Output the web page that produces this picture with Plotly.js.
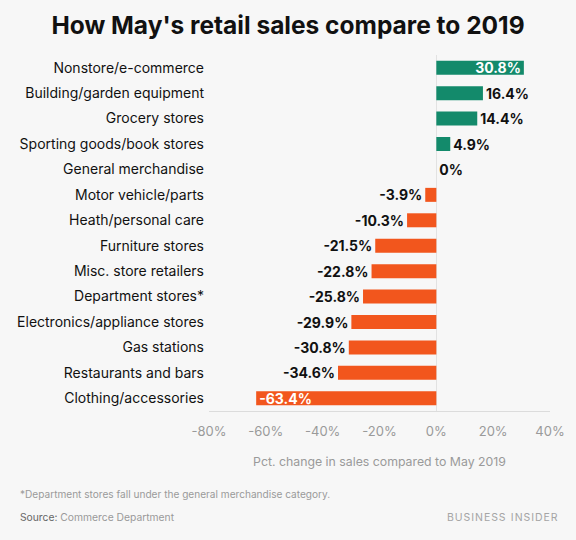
<!DOCTYPE html>
<html>
<head>
<meta charset="utf-8">
<script src="https://cdn.plot.ly/plotly-3.0.1.min.js"></script>
<style>
  html, body { margin: 0; padding: 0; background: #f7f7f7; }
  #chart { width: 576px; height: 540px; }
</style>
</head>
<body>
<div id="chart"></div>
<script>
// Retail categories, top to bottom as listed
const categories = [
  "Nonstore/e-commerce",
  "Building/garden equipment",
  "Grocery stores",
  "Sporting goods/book stores",
  "General merchandise",
  "Motor vehicle/parts",
  "Heath/personal care",
  "Furniture stores",
  "Misc. store retailers",
  "Department stores*",
  "Electronics/appliance stores",
  "Gas stations",
  "Restaurants and bars",
  "Clothing/accessories"
];
// Percent change in May sales vs. May 2019
const pctChange = [30.8, 16.4, 14.4, 4.9, 0, -3.9, -10.3, -21.5, -22.8, -25.8, -29.9, -30.8, -34.6, -63.4];
const xTickVals = [-80, -60, -40, -20, 0, 20, 40];
const xTickText = ["-80%", "-60%", "-40%", "-20%", "0%", "20%", "40%"];

const GREEN = "#138a6b";
const ORANGE = "#f2561d";
const FONT = "Inter, 'Open Sans', sans-serif";

// Plot area in pixels (used to place footer notes in paper coordinates)
const PLOT_L = 209, PLOT_W = 341, PLOT_B = 411, PLOT_H = 356;
const px = x => (x - PLOT_L) / PLOT_W;
const py = y => (PLOT_B - y) / PLOT_H;

// Plot bottom-up so the first category sits at the top
const cats = categories.slice().reverse();
const vals = pctChange.slice().reverse();
const labels = vals.map(v => v + "%");
const colors = vals.map(v => v >= 0 ? GREEN : ORANGE);
const maxPos = Math.max(...vals), minNeg = Math.min(...vals);
// Longest bar on each side carries its label inside
const positions = vals.map(v => (v === maxPos || v === minNeg) ? "inside" : "outside");

const trace = {
  type: "bar",
  orientation: "h",
  x: vals,
  y: cats,
  marker: { color: colors },
  text: labels,
  textposition: positions,
  insidetextanchor: "end",
  constraintext: "none",
  cliponaxis: false,
  insidetextfont: { family: FONT, size: 14, color: "#ffffff", weight: 700 },
  outsidetextfont: { family: FONT, size: 14, color: "#111111", weight: 700 },
  hoverinfo: "skip"
};

const layout = {
  width: 576,
  height: 540,
  paper_bgcolor: "#f7f7f7",
  plot_bgcolor: "#f7f7f7",
  margin: { l: PLOT_L, r: 576 - PLOT_L - PLOT_W, t: 55, b: 540 - PLOT_B },
  bargap: 0.45,
  showlegend: false,
  title: {
    text: "<b>How May's retail sales compare to 2019</b>",
    font: { family: FONT, size: 24.5, color: "#111111" },
    x: 0.5, xanchor: "center", y: 0.952, yanchor: "middle"
  },
  xaxis: {
    range: [-80, 40],
    tickvals: xTickVals,
    ticktext: xTickText,
    tickfont: { family: FONT, size: 13, color: "#9a9a9a" },
    showgrid: false,
    zeroline: true,
    zerolinecolor: "#e2e2e2",
    zerolinewidth: 1,
    showline: true,
    linecolor: "#dcdcdc",
    linewidth: 1,
    ticks: "",
    ticklabelstandoff: 8,
    title: {
      text: "Pct. change in sales compared to May 2019",
      font: { family: FONT, size: 12.3, color: "#9a9a9a" },
      standoff: 19
    }
  },
  yaxis: {
    type: "category",
    range: [-0.5, 13.5],
    tickfont: { family: FONT, size: 14, color: "#111111" },
    showgrid: false,
    zeroline: false,
    showline: false,
    ticks: "",
    ticklabelstandoff: 4
  },
  annotations: [
    {
      text: "*Department stores fall under the general merchandise category.",
      xref: "paper", yref: "paper", x: px(18), y: py(494),
      xanchor: "left", yanchor: "middle", showarrow: false,
      font: { family: FONT, size: 10.1, color: "#9a9a9a" }
    },
    {
      text: "<span style='color:#666666'>Source:</span> Commerce Department",
      xref: "paper", yref: "paper", x: px(18), y: py(517),
      xanchor: "left", yanchor: "middle", showarrow: false,
      font: { family: FONT, size: 10.3, color: "#9a9a9a" }
    },
    {
      text: "B\u200AU\u200AS\u200AI\u200AN\u200AE\u200AS\u200AS\u2002I\u200AN\u200AS\u200AI\u200AD\u200AE\u200AR",
      xref: "paper", yref: "paper", x: px(560), y: py(517),
      xanchor: "right", yanchor: "middle", showarrow: false,
      font: { family: FONT, size: 10.5, color: "#a5a5a5" }
    }
  ]
};

Plotly.newPlot("chart", [trace], layout, { displayModeBar: false, staticPlot: true });
</script>
</body>
</html>
